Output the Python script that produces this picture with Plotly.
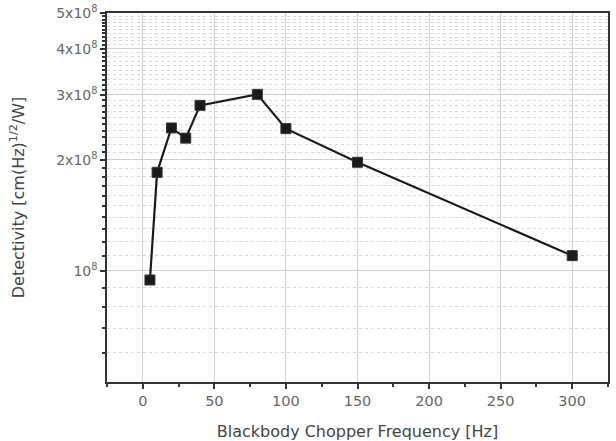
import plotly.graph_objects as go

freq = [5, 10, 20, 30, 40, 80, 100, 150, 300]
detectivity = [0.945e8, 1.85e8, 2.44e8, 2.29e8, 2.81e8, 3.01e8, 2.43e8, 1.97e8, 1.10e8]

y_tickvals = [1e8, 2e8, 3e8, 4e8, 5e8]
y_ticktext = ["10<sup>8</sup>", "2x10<sup>8</sup>", "3x10<sup>8</sup>", "4x10<sup>8</sup>", "5x10<sup>8</sup>"]
y_minor = [k * 1e7 for k in range(6, 10)] + [k * 1e7 for k in range(11, 50) if k % 10 != 0]
x_tickvals = [0, 50, 100, 150, 200, 250, 300]

fig = go.Figure()
fig.add_trace(go.Scatter(
    x=freq, y=detectivity, mode="lines+markers",
    line=dict(color="#1a1a1a", width=2.2),
    marker=dict(symbol="square", size=10, color="#1a1a1a", line=dict(color="#333", width=1)),
    showlegend=False,
))

font_fam = "'DejaVu Sans', sans-serif"
fig.update_layout(
    width=616, height=441,
    margin=dict(l=107, r=8, t=13, b=59),
    paper_bgcolor="white", plot_bgcolor="white",
    font=dict(family=font_fam, color="#555", size=13),
    xaxis=dict(
        range=[-25, 325], tickvals=x_tickvals, automargin=False,
        showgrid=True, gridcolor="#d0d0d0", gridwidth=1,
        ticks="outside", ticklen=5, tickcolor="#333", tickwidth=1.5,
        minor=dict(dtick=25, tick0=0, ticks="outside", ticklen=3, tickcolor="#333", showgrid=False),
        showline=True, linecolor="#333", linewidth=1.5, mirror=True,
        zeroline=False,
        title=dict(text="Blackbody Chopper Frequency [Hz]", font=dict(size=16, color="#444"), standoff=22),
        tickfont=dict(size=14.5, color="#666"),
    ),
    yaxis=dict(
        type="log", range=[7.69897, 8.69897], automargin=False,
        tickmode="array", tickvals=y_tickvals, ticktext=y_ticktext,
        showgrid=True, gridcolor="#cfcfcf", gridwidth=1,
        ticks="outside", ticklen=5, tickcolor="#333", tickwidth=1.5,
        minor=dict(tickmode="array", tickvals=y_minor, ticks="outside", ticklen=3,
                   tickcolor="#333", showgrid=True, gridcolor="#d8d8d8", griddash="dot", gridwidth=1),
        showline=True, linecolor="#333", linewidth=1.5, mirror=True,
        zeroline=False,
        title=dict(text="Detectivity [cm(Hz)<sup>1/2</sup>/W]", font=dict(size=16, color="#444"), standoff=28),
        tickfont=dict(size=14, color="#666"),
    ),
)

fig.write_html("out.html")
